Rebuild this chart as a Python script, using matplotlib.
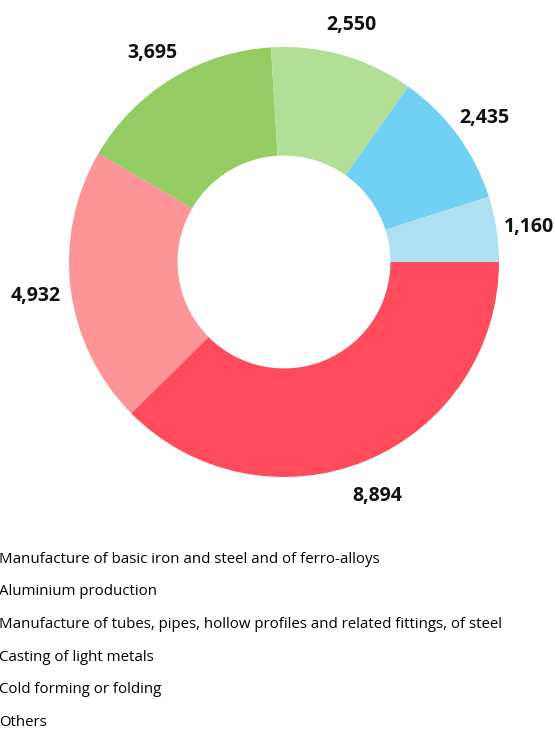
import numpy as np
import matplotlib
matplotlib.use('Agg')
import matplotlib.pyplot as plt
from matplotlib.patches import Patch

plt.rcParams['font.family'] = ['Open Sans', 'DejaVu Sans']

# data
categories = ['Manufacture of basic iron and steel and of ferro-alloys',
              'Aluminium production',
              'Manufacture of tubes, pipes, hollow profiles and related fittings, of steel',
              'Casting of light metals',
              'Cold forming or folding',
              'Others']
values = [8894, 4932, 3695, 2550, 2435, 1160]
value_labels = ['8,894', '4,932', '3,695', '2,550', '2,435', '1,160']
colors = ['#ff4b5c', '#fd9497', '#93cd63', '#b1df95', '#72d0f5', '#ade1f2']

fig = plt.figure(figsize=(5.55, 7.29), dpi=100)
ax = fig.add_axes([69 / 555, 252 / 729, 430 / 555, 430 / 729])

wedges, _ = ax.pie(values, colors=colors, startangle=0, counterclock=False,
                   radius=1.0, wedgeprops=dict(width=0.505, linewidth=0))
ax.set_xlim(-1, 1)
ax.set_ylim(-1, 1)
ax.set_aspect('equal')
ax.axis('off')

# value labels outside the ring
for w, lab in zip(wedges, value_labels):
    ang = np.deg2rad((w.theta1 + w.theta2) / 2)
    r = 1.16
    ax.text(r * np.cos(ang) - 0.005, r * np.sin(ang) - 0.015, lab,
            ha='center', va='center', fontsize=14, fontweight='bold',
            color='#111111')

# legend, markers pushed off the left edge like the original
handles = [Patch(facecolor=c) for c in colors]
fig.legend(handles, categories, loc='upper left', bbox_to_anchor=(-0.0883, 0.2515),
           frameon=False, fontsize=10.8, labelspacing=1.18, borderaxespad=0)

fig.savefig('out.png', dpi=100)
